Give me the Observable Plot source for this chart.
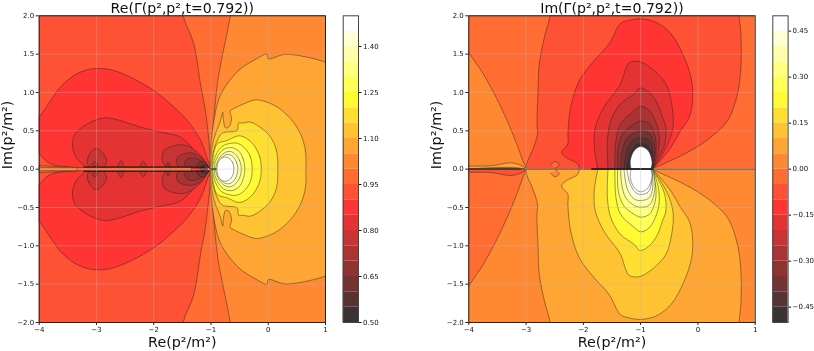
<!DOCTYPE html>
<html><head><meta charset="utf-8">
<script src="https://cdn.jsdelivr.net/npm/d3@7"></script>
<script src="https://cdn.jsdelivr.net/npm/@observablehq/plot@0.6"></script>
<style>
html,body{margin:0;padding:0;background:#fff}
#page{position:relative;width:814px;height:351px;overflow:hidden;filter:blur(.35px)}
#page svg{position:absolute;top:0;background:transparent}
</style></head><body><div id="page"></div>
<script>
// shared colour bands (20 filled levels of the colour bar, bottom to top)
const bandColors = ["#3b3333","#583333","#743333","#903333","#ac3333","#c83333","#e53333","#ff3533","#ff5133","#ff6d33","#ff8933","#ffa533","#ffc233","#ffde33","#fffa33","#ffff56","#ffff80","#ffffab","#ffffd5","#ffffff"];
const reLevels = [0.5,0.55,0.6,0.65,0.7,0.75,0.8,0.85,0.9,0.95,1,1.05,1.1,1.15,1.2,1.25,1.3,1.35,1.4,1.45,1.5];
const imLevels = [-0.5,-0.45,-0.4,-0.35,-0.3,-0.25,-0.2,-0.15,-0.1,-0.05,0,0.05,0.1,0.15,0.2,0.25,0.3,0.35,0.4,0.45,0.5];
const reTicks = [0.5,0.65,0.8,0.95,1.1,1.25,1.4];
const imTicks = [-0.45,-0.3,-0.15,0,0.15,0.3,0.45];
const xTicks = [-4,-3,-2,-1,0,1];
const yTicks = [-2,-1.5,-1,-0.5,0,0.5,1,1.5,2];

// Re panel: iso-lines, upper half plane, [Re, Im]
const reGe095=[[1.4,2.4],[-1.55,2.4],[-1.486,2],[-1.3,1.635],[-1.183,1.11],[-1.095,.75],[-1.037,.374],[-.996,.03]];
const reGe100=[[1.4,2.4],[-.6,2.4],[-.66,2],[-.76,1.63],[-.863,1.24],[-.92,.9],[-.97,.46],[-.99,.07]];
const reGe105=[[1.3,1.3],[1,1.395],[.74,1.45],[.45,1.49],[.27,1.495],[0,1.44],[-.02,1.5],[-.25,1.42],[-.48,1.31],[-.72,1.11],[-.86,.92],[-.95,.63],[-1,.33],[-1.02,.05]];
const reGe110=[[.657,0],[.65,.24],[.563,.46],[.39,.657],[.157,.81],[-.077,.887],[-.22,.904],[-.455,.843],[-.6,.79],[-.665,.76],[-.64,.657],[-.69,.548],[-.747,.54],[-.785,.657],[-.795,.74],[-.84,.613],[-.92,.464],[-.97,.33],[-1.01,.07]];
const reGe115=[[.168,0],[.144,.243],[.04,.417],[-.106,.526],[-.31,.613],[-.455,.6],[-.515,.605],[-.545,.505],[-.8,.47],[-.89,.374],[-.95,.25],[-1,.05]];
const reGe120=[[-.123,0],[-.147,.157],[-.25,.31],[-.37,.396],[-.51,.435],[-.717,.374],[-.89,.33],[-.96,.178],[-.98,.05]];
const reGe125=[[-.28,0],[-.31,.157],[-.397,.265],[-.513,.33],[-.63,.34],[-.8,.3],[-.89,.22],[-.95,.11],[-.97,.03]];
const reGe130=[[-.41,0],[-.44,.135],[-.51,.23],[-.63,.28],[-.775,.26],[-.88,.17],[-.94,.05]];
const reGe135=[[-.47,0],[-.5,.113],[-.57,.19],[-.66,.23],[-.76,.215],[-.86,.135],[-.915,.03]];
const reGe140=[[-.53,0],[-.555,.09],[-.61,.16],[-.69,.19],[-.775,.175],[-.85,.1],[-.89,.013]];
const reGe145=[[-.6,0],[-.62,.08],[-.68,.14],[-.76,.157],[-.84,.13],[-.885,.07],[-.895,.01]];
const reLt090=[[-4.2,.55],[-4,.68],[-3.8,.896],[-3.63,1.07],[-3.395,1.22],[-3.16,1.296],[-2.93,1.313],[-2.7,1.287],[-2.35,1.178],[-2,1.026],[-1.71,.852],[-1.416,.635],[-1.18,.374],[-1.055,.113],[-1.02,.03],[-3.34,.02],[-3.8,.07],[-3.92,.135],[-4,.2],[-4.2,.3]];
const reLt085=[[-3.19,.03],[-3.36,.157],[-3.42,.33],[-3.37,.46],[-3.16,.59],[-2.87,.67],[-2.7,.657],[-2.23,.548],[-1.88,.483],[-1.53,.417],[-1.24,.2],[-1.037,.03]];
const reLt080=[[-1.79,.03],[-1.85,.113],[-1.85,.178],[-1.82,.243],[-1.68,.3],[-1.5,.317],[-1.36,.287],[-1.18,.178],[-1.04,.03]];
const reLt080b=[[-3.14,.03],[-3.16,.113],[-3.1,.22],[-3,.27],[-2.9,.22],[-2.82,.113],[-2.87,.03]];
const reLt080c=[[-2.63,.035],[-2.57,.113],[-2.53,.035]];
const reLt080d=[[-2.24,.035],[-2.18,.104],[-2.13,.035]];
const reLt075=[[-1.56,.03],[-1.6,.07],[-1.58,.157],[-1.47,.2],[-1.33,.21],[-1.18,.157],[-1.04,.03]];
const reLt075b=[[-3.09,.05],[-3.03,.1],[-2.98,.05],[-3.03,.035]];
const reLt075c=[[-1.78,.03],[-1.75,.09],[-1.71,.03]];
const reLt070=[[-1.44,.03],[-1.46,.07],[-1.42,.126],[-1.3,.148],[-1.18,.113],[-1.04,.03]];
const reLt065=[[-1.24,.02],[-1.24,.05],[-1.2,.09],[-1.125,.1],[-1.04,.02]];
const reLt060=[[-1.18,.01],[-1.14,.05],[-1.08,.05],[-1.03,.01]];
const reCutOuter=[[-4,.045],[-3.34,.02],[-1.34,.028],[-1.34,-.028],[-3.34,-.02],[-4,-.045]];
const reCutInner=[[-4,.02],[-3.34,.02],[-3.34,-.02],[-4,-.02]];
const reCutUpper=[[-3.22,.028],[-1.12,.026]];
const reCutLower=[[-3.22,-.028],[-1.12,-.026]];
const reConverge=[[-1.0,0],[-.92,0]];
const reHole=[[-1.07,.0],[-1.04,.012],[-1.02,0],[-1.04,-.012]];

// Im panel: iso-lines, upper half plane (the lower half is its mirror with opposite sign)
const imGt000=[[-4.2,1.8],[-4,1.526],[-3.73,1.22],[-3.44,.81],[-3.21,.417],[-3.06,.113],[-3.02,.01],[-4.2,.01]];
const imGt005=[[-4.2,.04],[-4,.04],[-3.6,.045],[-3.27,.083],[-3.09,.05],[-3.02,.01],[-4.2,.01]];
const imLtM05=[[-3,.01],[-2.99,.07],[-2.89,.243],[-2.8,.46],[-2.81,.59],[-2.79,1.03],[-2.77,1.37],[-2.68,1.72],[-2.58,2],[-2.53,2.4],[.72,2.4],[.72,2],[.75,1.765],[.75,1.33],[.69,.98],[.52,.635],[.226,.417],[-.12,.243],[-.47,.113],[-.73,.026],[-.79,.005]];
const imGtM05b=[[-2.57,.05],[-2.5,.1],[-2.42,.06],[-2.48,.013]];
const imLtM10=[[-2.07,.01],[-2.1,.07],[-2.31,.157],[-2.38,.22],[-2.27,.33],[-2.27,.46],[-2.22,.81],[-2.07,1.157],[-1.81,1.417],[-1.55,1.635],[-1.35,1.9],[-1.2,1.94],[-1,1.96],[-.735,1.917],[-.47,1.765],[-.24,1.46],[-.11,1.157],[-.094,.896],[-.15,.678],[-.3,.504],[-.47,.287],[-.705,.07],[-.79,.005]];
const imLtM15=[[-1.75,.01],[-1.81,.287],[-1.79,.548],[-1.64,.81],[-1.35,1.113],[-1.26,1.31],[-1.2,1.387],[-1.03,1.404],[-.88,1.35],[-.735,1.265],[-.56,1.113],[-.47,.896],[-.43,.59],[-.5,.374],[-.65,.157],[-.79,.005]];
const imLtM20=[[-1.57,.01],[-1.58,.374],[-1.52,.635],[-1.35,.852],[-1.11,.983],[-1.015,1.06],[-.85,1],[-.705,.852],[-.62,.678],[-.56,.548],[-.58,.33],[-.68,.157],[-.79,.005]];
const imLtM25=[[-1.45,.01],[-1.43,.374],[-1.35,.59],[-1.14,.743],[-1,.817],[-.85,.765],[-.735,.613],[-.68,.46],[-.69,.243],[-.79,.005]];
const imLtM30=[[-1.4,.01],[-1.39,.287],[-1.29,.483],[-1.11,.59],[-1,.626],[-.85,.59],[-.76,.46],[-.73,.287],[-.79,.005]];
const imLtM35=[[-1.35,.01],[-1.33,.2],[-1.26,.374],[-1.11,.474],[-1,.496],[-.85,.47],[-.775,.352],[-.75,.2],[-.79,.005]];
const imLtM40=[[-1.29,.01],[-1.23,.265],[-1.11,.39],[-1,.409],[-.85,.374],[-.79,.243],[-.8,.005]];
const imLtM45=[[-1.24,.01],[-1.18,.2],[-1.08,.31],[-1,.33],[-.87,.3],[-.81,.178],[-.81,.005]];
const imLtM50=[[-1.17,.01],[-1.18,.113],[-1.11,.243],[-1,.296],[-.87,.243],[-.8,.09],[-.82,.01]];
const imAxisLine=[[-4,0],[1,0]];
const imCutLeft=[[-4,0],[-3.1,0]];
const imCutRight=[[-1.85,0],[-.8,0]];

const contour = (pts, v, curve) => Plot.line(pts, {x:d=>d[0], y:d=>d[1], fill:()=>v, stroke:"#222", strokeOpacity:.75, strokeWidth:.6, curve, clip:true});
const mirror = pts => pts.map(([x,y])=>[x,-y]);
const both = c => c.concat(c.slice().reverse().filter(d=>d[1]!==0).map(([x,y])=>[x,-y]));
const rule = (pts, w, col="#111", op=1) => Plot.line(pts, {x:d=>d[0], y:d=>d[1], stroke:col, strokeWidth:w, strokeOpacity:op, clip:true});
const grid = () => [
  Plot.ruleX(xTicks.slice(1,-1), {stroke:"#b8b8b8", strokeOpacity:.45, strokeWidth:.8}),
  Plot.ruleY(yTicks.slice(1,-1), {stroke:"#b8b8b8", strokeOpacity:.45, strokeWidth:.8})
];
const F1 = d3.format(".1f"), F2 = d3.format(".2f");
const decor = (title, ylabelDx) => [
  Plot.frame({stroke:"#222", strokeWidth:1}),
  Plot.axisX(xTicks, {tickSize:3, tickPadding:2, label:null, tickFormat:d3.format("d"), stroke:"#222"}),
  Plot.axisY(yTicks, {tickSize:3, tickPadding:2, label:null, tickFormat:F1, stroke:"#222"}),
  Plot.text([title], {text:d=>d, frameAnchor:"top", dy:-7, lineAnchor:"middle", fontSize:14.1}),
  Plot.text(["Re(p²/m²)"], {text:d=>d, frameAnchor:"bottom", dy:20, lineAnchor:"middle", fontSize:14.3}),
  Plot.text(["Im(p²/m²)"], {text:d=>d, frameAnchor:"left", dx:ylabelDx, rotate:-90, lineAnchor:"middle", fontSize:14.3})
];
const mid = (levels,i) => (levels[i]+levels[i+1])/2;
const panel = (marks, levels, ml, mr) => Plot.plot({
  width:407, height:351, marginLeft:ml, marginRight:mr, marginTop:15.3, marginBottom:29,
  x:{domain:[-4,1]}, y:{domain:[-2,2]},
  color:{type:"threshold", domain:levels.slice(1,-1), range:bandColors},
  style:{fontFamily:"DejaVu Sans", fontSize:"7px", background:"transparent", color:"#111"},
  marks
});
const colorbar = (levels, ticks, ml, w) => Plot.plot({
  width:w, height:351, marginLeft:ml, marginRight:w-ml-15.3, marginTop:15.3, marginBottom:29,
  x:{domain:[0,1], axis:null}, y:{domain:[levels[0],levels[levels.length-1]]},
  color:{type:"threshold", domain:levels.slice(1,-1), range:bandColors},
  style:{fontFamily:"DejaVu Sans", fontSize:"7px", background:"transparent", color:"#111"},
  marks:[
    Plot.rect(levels.slice(0,-1), {x1:0, x2:1, y1:d=>d, y2:(d,i)=>levels[i+1], fill:(d,i)=>mid(levels,i)}),
    Plot.frame({stroke:"#444", strokeWidth:1}),
    Plot.axisY(ticks, {anchor:"right", tickSize:2.5, tickPadding:2, label:null, tickFormat:F2})
  ]
});

// ---- Re panel
const R=i=>mid(reLevels,i);
const cc="catmull-rom-closed", co="catmull-rom";
const lobes=[[reLt090,7],[reLt085,6],[reLt080,5],[reLt080b,5],[reLt080c,5],[reLt080d,5],[reLt075,4],[reLt075b,4],[reLt075c,4],[reLt070,3],[reLt065,2],[reLt060,1]];
const reMarks=[
  Plot.rect([R(8)],{x1:-4,x2:1,y1:-2,y2:2,fill:d=>d}),
  contour(both(reGe095),R(9),cc), contour(both(reGe100),R(10),cc), contour(both(reGe105),R(11),cc),
  contour(both(reGe110),R(12),cc), contour(both(reGe115),R(13),cc), contour(both(reGe120),R(14),cc),
  contour(both(reGe125),R(15),cc), contour(both(reGe130),R(16),cc), contour(both(reGe135),R(17),cc),
  contour(both(reGe140),R(18),cc), contour(both(reGe145),R(19),cc),
  ...lobes.flatMap(([c,b])=>[contour(c,R(b),co), contour(mirror(c),R(b),co)]),
  contour(reCutOuter,R(9),"linear-closed"), contour(reCutInner,R(10),"linear-closed"),
  rule(reCutUpper,1), rule(reCutLower,1), rule(reConverge,2.2,"#222",.7),
  contour(reHole,R(19),"linear-closed"),
  ...grid(),
  ...decor("Re(Γ(p²,p²,t=0.792))",-31.7)
];

// ---- Im panel
const I=i=>mid(imLevels,i);
const upper=[[imGt000,10],[imGt005,11],[imLtM05,8],[imGtM05b,9],[imLtM10,7],[imLtM15,6],[imLtM20,5],[imLtM25,4],[imLtM30,3],[imLtM35,2],[imLtM40,1],[imLtM45,0]];
const imMarks=[
  Plot.rect([I(9)],{x1:-4,x2:1,y1:0,y2:2,fill:d=>d}),
  Plot.rect([I(10)],{x1:-4,x2:1,y1:-2,y2:0,fill:d=>d}),
  ...upper.map(([c,b])=>contour(c,I(b),co)),
  contour(imLtM50,I(19),co),
  ...upper.map(([c,b])=>contour(mirror(c),I(19-b),co)),
  contour(mirror(imLtM50),I(19),co),
  rule(imAxisLine,.9,"#333"), rule(imCutLeft,1.3), rule(imCutRight,1.8,"#000"),
  ...grid(),
  ...decor("Im(Γ(p²,p²,t=0.792))",-32.3)
];

const page=document.getElementById("page");
const place=(el,left)=>{el.style.left=left+"px"; page.appendChild(el);};
place(panel(reMarks,reLevels,38.7,82),0);
place(colorbar(reLevels,reTicks,12.7,60),330);
place(panel(imMarks,imLevels,61.3,59.3),407);
place(colorbar(imLevels,imTicks,12.3,54),760);
</script></body></html>
